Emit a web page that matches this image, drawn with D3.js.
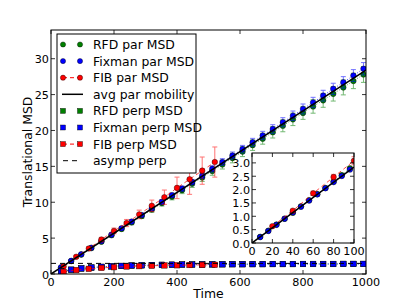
<!DOCTYPE html>
<html>
<head>
<meta charset="utf-8">
<script src="https://cdn.jsdelivr.net/npm/d3@7"></script>
<style>
  body { margin: 0; background: #fff; }
</style>
</head>
<body>
<svg id="chart" width="407" height="305"></svg>
<script>
// ---- data ----
const parTimes = [32, 64, 96, 128, 160, 192, 224, 256, 288, 320, 352, 384, 416, 448, 480, 512,
  544, 576, 608, 640, 672, 704, 736, 768, 800, 832, 864, 896, 928, 960, 992];
const fixmanPar = [0.92, 1.83, 2.75, 3.66, 4.57, 5.48, 6.38, 7.30, 8.22, 9.14, 10.05, 10.97, 11.9, 12.8,
  13.7, 14.65, 15.6, 16.5, 17.4, 18.35, 19.3, 20.2, 21.15, 22.05, 23.0, 23.9, 24.85, 25.8, 26.7, 27.65, 28.6];
const fixmanParErr = [0.05, 0.07, 0.1, 0.12, 0.15, 0.17, 0.2, 0.22, 0.25, 0.28, 0.3, 0.33, 0.36, 0.38,
  0.41, 0.44, 0.47, 0.5, 0.52, 0.55, 0.58, 0.6, 0.63, 0.66, 0.69, 0.72, 0.75, 0.78, 0.8, 0.83, 0.86];
const rfdPar = [0.9, 1.8, 2.7, 3.6, 4.5, 5.4, 6.28, 7.18, 8.08, 8.98, 9.88, 10.78, 11.68, 12.58,
  13.45, 14.35, 15.25, 16.15, 17.05, 17.95, 18.85, 19.75, 20.65, 21.55, 22.45, 23.35, 24.2, 25.1, 26.0, 26.9, 27.8];
const rfdParErr = [0.06, 0.1, 0.13, 0.17, 0.2, 0.24, 0.27, 0.31, 0.34, 0.38, 0.41, 0.45, 0.48, 0.52,
  0.55, 0.59, 0.62, 0.66, 0.69, 0.73, 0.76, 0.8, 0.83, 0.87, 0.9, 0.94, 0.97, 1.0, 1.04, 1.07, 1.1];

const fibTimes = [40, 80, 120, 160, 200, 240, 280, 320, 360, 400, 440, 480, 520];
const fibPar = [1.05, 2.4, 3.55, 4.8, 6.0, 7.1, 8.3, 9.5, 10.7, 12.0, 13.2, 14.4, 15.6];
const fibParErr = [0.15, 0.2, 0.25, 0.3, 0.4, 0.5, 0.6, 0.8, 1.0, 1.5, 2.1, 1.9, 2.1];
const fibPerp = [0.3, 0.55, 0.72, 0.85, 0.95, 1.05, 1.1, 1.15, 1.2, 1.22, 1.25, 1.27, 1.28];

const fixmanPerp = [0.35, 0.6, 0.78, 0.9, 1.0, 1.07, 1.13, 1.18, 1.22, 1.25, 1.28, 1.3, 1.32, 1.33,
  1.34, 1.35, 1.36, 1.37, 1.37, 1.38, 1.38, 1.39, 1.39, 1.39, 1.4, 1.4, 1.4, 1.4, 1.41, 1.41, 1.41];
const rfdPerp = [0.34, 0.59, 0.77, 0.89, 0.99, 1.06, 1.12, 1.17, 1.21, 1.24, 1.27, 1.29, 1.31, 1.32,
  1.33, 1.34, 1.35, 1.36, 1.36, 1.37, 1.37, 1.38, 1.38, 1.38, 1.39, 1.39, 1.39, 1.39, 1.4, 1.4, 1.4];

const avgParSlope = 0.0284;   // avg par mobility line: MSD = slope * t
const asympPerp = 1.48;

// inset (first 100 time units)
const insetTimes = [8, 16, 24, 32, 40, 48, 56, 64, 72, 80, 88, 96];
const insetFixman = [0.22, 0.45, 0.68, 0.91, 1.14, 1.36, 1.59, 1.82, 2.05, 2.28, 2.51, 2.75];
const insetRfd = [0.23, 0.46, 0.69, 0.91, 1.13, 1.37, 1.6, 1.83, 2.06, 2.3, 2.54, 2.8];
const insetFibTimes = [20, 40, 60, 80, 100];
const insetFib = [0.63, 1.21, 1.86, 2.47, 3.08];
const insetFibErr = [0.03, 0.05, 0.08, 0.1, 0.15];

const xTicks = [0, 200, 400, 600, 800, 1000];
const yTicks = [0, 5, 10, 15, 20, 25, 30];
const insetXTicks = [0, 20, 40, 60, 80, 100];
const insetYTicks = [0, 0.5, 1.0, 1.5, 2.0, 2.5, 3.0];

const legendItems = [
  { label: "RFD par MSD", color: "#008000", marker: "circle", line: null },
  { label: "Fixman par MSD", color: "#0000ff", marker: "circle", line: null },
  { label: "FIB par MSD", color: "#ff0000", marker: "circle", line: "4,3" },
  { label: "avg par mobility", color: "#000", marker: null, line: "solid" },
  { label: "RFD perp MSD", color: "#008000", marker: "square", line: null },
  { label: "Fixman perp MSD", color: "#0000ff", marker: "square", line: null },
  { label: "FIB perp MSD", color: "#ff0000", marker: "square", line: "4,3" },
  { label: "asymp perp", color: "#000", marker: null, line: "5,4" }
];

// ---- drawing ----
const TICK_FS = 11.2;
const LABEL_FS = 12.4;
const svg = d3.select("#chart");
const box = { left: 51, right: 366, top: 30, bottom: 274 };
const x = d3.scaleLinear().domain([0, 1000]).range([box.left, box.right]);
const y = d3.scaleLinear().domain([0, 34]).range([box.bottom, box.top]);

function zip(ts, vs, es) { return ts.map((t, i) => ({ t, v: vs[i], e: es ? es[i] : 0 })); }

function errorBars(g, xs, ys, data, color) {
  const eb = g.append("g").attr("stroke", color).attr("stroke-width", 1).attr("opacity", 0.55);
  data.forEach(d => {
    if (!d.e) return;
    const cx = xs(d.t);
    eb.append("line").attr("x1", cx).attr("x2", cx).attr("y1", ys(d.v - d.e)).attr("y2", ys(d.v + d.e));
    [d.v - d.e, d.v + d.e].forEach(v =>
      eb.append("line").attr("x1", cx - 2.5).attr("x2", cx + 2.5).attr("y1", ys(v)).attr("y2", ys(v)));
  });
}

function series(g, xs, ys, data, color, marker, dash) {
  if (dash) {
    g.append("path").datum(data)
      .attr("d", d3.line().x(d => xs(d.t)).y(d => ys(d.v)))
      .attr("fill", "none").attr("stroke", color).attr("stroke-width", 1)
      .attr("stroke-dasharray", dash).attr("opacity", 0.7);
  }
  const m = g.append("g");
  data.forEach(d => {
    if (marker === "circle") {
      m.append("circle").attr("cx", xs(d.t)).attr("cy", ys(d.v)).attr("r", 2.8)
        .attr("fill", color).attr("stroke", "#000").attr("stroke-width", 0.4);
    } else {
      m.append("rect").attr("x", xs(d.t) - 2.8).attr("y", ys(d.v) - 2.8).attr("width", 5.6).attr("height", 5.6)
        .attr("fill", color).attr("stroke", "#000").attr("stroke-width", 0.4);
    }
  });
}

function label(g, px, py, anchor, str, fs) {
  return g.append("text").attr("x", px).attr("y", py).attr("text-anchor", anchor)
    .attr("font-family", "DejaVu Sans").attr("font-size", fs).text(str);
}

function frame(g, xs, ys, b, xt, yt, xfmt, yfmt) {
  g.append("rect").attr("x", b.left).attr("y", b.top)
    .attr("width", b.right - b.left).attr("height", b.bottom - b.top)
    .attr("fill", "none").attr("stroke", "#000").attr("stroke-width", 1);
  const t = g.append("g").attr("stroke", "#000").attr("stroke-width", 0.8);
  xt.forEach(v => {
    t.append("line").attr("x1", xs(v)).attr("x2", xs(v)).attr("y1", b.bottom).attr("y2", b.bottom - 4);
    t.append("line").attr("x1", xs(v)).attr("x2", xs(v)).attr("y1", b.top).attr("y2", b.top + 4);
    label(g, xs(v), b.bottom + 12, "middle", xfmt(v), TICK_FS);
  });
  yt.forEach(v => {
    t.append("line").attr("x1", b.left).attr("x2", b.left + 4).attr("y1", ys(v)).attr("y2", ys(v));
    t.append("line").attr("x1", b.right).attr("x2", b.right - 4).attr("y1", ys(v)).attr("y2", ys(v));
    label(g, b.left - 2, ys(v) + 4.5, "end", yfmt(v), TICK_FS);
  });
}

const main = svg.append("g");
svg.append("clipPath").attr("id", "cm").append("rect").attr("x", box.left).attr("y", box.top)
  .attr("width", box.right - box.left).attr("height", box.bottom - box.top);
const plot = main.append("g").attr("clip-path", "url(#cm)");

const rfdParData = zip(parTimes, rfdPar, rfdParErr);
const fixParData = zip(parTimes, fixmanPar, fixmanParErr);
const fibParData = zip(fibTimes, fibPar, fibParErr);

errorBars(plot, x, y, rfdParData, "#008000");
series(plot, x, y, rfdParData, "#008000", "circle", "1,2");
errorBars(plot, x, y, fixParData, "#0000ff");
series(plot, x, y, fixParData, "#0000ff", "circle", "1,2");
errorBars(plot, x, y, fibParData, "#ff0000");
series(plot, x, y, fibParData, "#ff0000", "circle", "4,3");

plot.append("line").attr("x1", x(0)).attr("y1", y(0)).attr("x2", x(1000)).attr("y2", y(avgParSlope * 1000))
  .attr("stroke", "#000").attr("stroke-width", 1.5);

series(plot, x, y, zip(parTimes, rfdPerp), "#008000", "square", "1,2");
series(plot, x, y, zip(parTimes, fixmanPerp), "#0000ff", "square", "1,2");
series(plot, x, y, zip(fibTimes, fibPerp), "#ff0000", "square", "4,3");
plot.append("line").attr("x1", x(0)).attr("x2", x(1000)).attr("y1", y(asympPerp)).attr("y2", y(asympPerp))
  .attr("stroke", "#000").attr("stroke-width", 1).attr("stroke-dasharray", "5,4");

frame(main, x, y, box, xTicks, yTicks, d3.format("d"), d3.format("d"));

label(main, (box.left + box.right) / 2, 298, "middle", "Time", LABEL_FS);
label(main, 0, 0, "middle", "Translational MSD", LABEL_FS)
  .attr("transform", `translate(32,${(box.top + box.bottom) / 2}) rotate(-90)`);

// legend
const lg = main.append("g");
lg.append("rect").attr("x", 57).attr("y", 34).attr("width", 139).attr("height", 139)
  .attr("fill", "#fff").attr("stroke", "#000").attr("stroke-width", 1);
legendItems.forEach((it, i) => {
  const cy = 44.5 + i * 16.6;
  if (it.line === "solid") {
    lg.append("line").attr("x1", 62).attr("x2", 83).attr("y1", cy).attr("y2", cy)
      .attr("stroke", it.color).attr("stroke-width", 1.5);
  } else if (it.line) {
    lg.append("line").attr("x1", 63).attr("x2", 80).attr("y1", cy).attr("y2", cy)
      .attr("stroke", it.color).attr("stroke-width", 1).attr("stroke-dasharray", it.line);
  }
  [63, 80].forEach(mx => {
    if (it.marker === "circle") {
      lg.append("circle").attr("cx", mx).attr("cy", cy).attr("r", 2.6).attr("fill", it.color)
        .attr("stroke", "#000").attr("stroke-width", 0.4);
    } else if (it.marker === "square") {
      lg.append("rect").attr("x", mx - 2.5).attr("y", cy - 2.5).attr("width", 5).attr("height", 5)
        .attr("fill", it.color).attr("stroke", "#000").attr("stroke-width", 0.4);
    }
  });
  label(lg, 93, cy + 4.5, "start", it.label, LABEL_FS);
});

// inset
const ib = { left: 252, right: 354, top: 153, bottom: 243 };
const xi = d3.scaleLinear().domain([0, 100]).range([ib.left, ib.right]);
const yi = d3.scaleLinear().domain([0, 3.37]).range([ib.bottom, ib.top]);
const inset = svg.append("g");
inset.append("rect").attr("x", ib.left).attr("y", ib.top)
  .attr("width", ib.right - ib.left).attr("height", ib.bottom - ib.top).attr("fill", "#fff");
svg.append("clipPath").attr("id", "ci").append("rect").attr("x", ib.left).attr("y", ib.top)
  .attr("width", ib.right - ib.left).attr("height", ib.bottom - ib.top);
const ip = inset.append("g").attr("clip-path", "url(#ci)");
series(ip, xi, yi, zip(insetTimes, insetRfd), "#008000", "circle", "1,2");
series(ip, xi, yi, zip(insetTimes, insetFixman), "#0000ff", "circle", "1,2");
const insetFibData = zip(insetFibTimes, insetFib, insetFibErr);
errorBars(ip, xi, yi, insetFibData, "#ff0000");
series(ip, xi, yi, insetFibData, "#ff0000", "circle", "4,3");
ip.append("line").attr("x1", xi(0)).attr("y1", yi(0)).attr("x2", xi(100)).attr("y2", yi(avgParSlope * 100))
  .attr("stroke", "#000").attr("stroke-width", 1.5);
frame(inset, xi, yi, ib, insetXTicks, insetYTicks, d3.format("d"), d3.format(".1f"));
</script>
</body>
</html>
